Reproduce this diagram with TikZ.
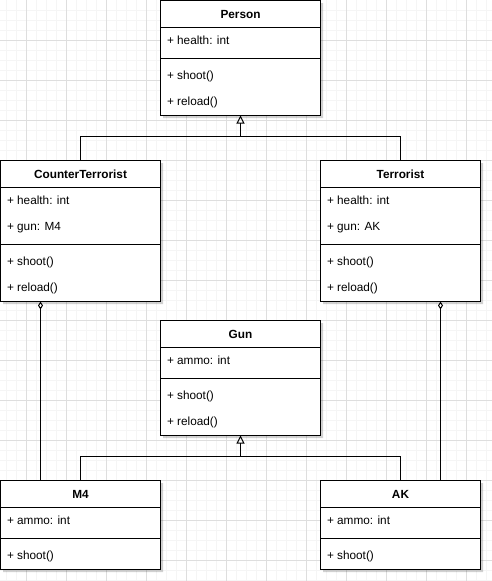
\documentclass[tikz,border=0pt]{standalone}
\usepackage{fontspec}
\setmainfont{Liberation Sans}
\usetikzlibrary{calc,shapes.multipart,arrows.meta,shadows}
% one 26pt row of a class box
\newcommand\umltitle[1]{\hbox{\rule[-8.5pt]{0pt}{26pt}\textbf{#1}}}
\newcommand\umlrow[1]{\hbox{\rule[-9.5pt]{0pt}{26pt}#1}}
\newcommand\umlattrs[1]{\vbox{\offinterlineskip#1\kern4pt}}
\newcommand\umlops[1]{\vbox{\offinterlineskip\kern4pt#1}}
\tikzset{
  umlclass/.style={ % image of a class: name, attributes, operations
    draw, fill=white, line width=1pt, rectangle split,
    rectangle split parts=3, rectangle split part align={center,left,left},
    minimum width=160pt, inner xsep=6.5pt, inner ysep=0pt, outer sep=0pt,
    anchor=north west, text=black, font=\fontsize{11.8}{14}\selectfont,
    drop shadow={shadow xshift=2.5pt, shadow yshift=-2.5pt, opacity=0.18, fill=black}
  },
  generalize/.style={line width=1pt, -{Triangle[open, length=8pt, width=8pt]}},
  plainline/.style={line width=1pt},
  aggregate/.style={line width=1pt, {Diamond[open, length=8pt, width=5pt]}-},
  gridminor/.style={line width=1pt, black!4},
  gridmajor/.style={line width=1pt, black!13}
}
\begin{document}
\begin{tikzpicture}[x=1pt, y=-1pt]
  \fill[white] (0,0) rectangle (492,581);
  \useasboundingbox (0,0) rectangle (492,581);

  % background grid
  \foreach \x in {6,16,...,486} \draw[gridminor] (\x,0) -- (\x,581);
  \foreach \y in {10,20,...,580} \draw[gridminor] (0,\y) -- (492,\y);
  \foreach \x in {26,66,...,466} \draw[gridmajor] (\x,0) -- (\x,581);
  \foreach \y in {40,80,...,560} \draw[gridmajor] (0,\y) -- (492,\y);

  \node[umlclass] (person) at (160.5,0.5) {\umltitle{Person}%
    \nodepart{two}\umlattrs{\umlrow{+ health: int}}%
    \nodepart{three}\umlops{\umlrow{+ shoot()}\umlrow{+ reload()}}};
  \node[umlclass] (counter) at (0.5,160.5) {\umltitle{CounterTerrorist}%
    \nodepart{two}\umlattrs{\umlrow{+ health: int}\umlrow{+ gun: M4}}%
    \nodepart{three}\umlops{\umlrow{+ shoot()}\umlrow{+ reload()}}};
  \node[umlclass] (terrorist) at (320.5,160.5) {\umltitle{Terrorist}%
    \nodepart{two}\umlattrs{\umlrow{+ health: int}\umlrow{+ gun: AK}}%
    \nodepart{three}\umlops{\umlrow{+ shoot()}\umlrow{+ reload()}}};
  \node[umlclass] (gun) at (160.5,320.5) {\umltitle{Gun}%
    \nodepart{two}\umlattrs{\umlrow{+ ammo: int}}%
    \nodepart{three}\umlops{\umlrow{+ shoot()}\umlrow{+ reload()}}};
  \node[umlclass] (m4) at (0.5,480.5) {\umltitle{M4}%
    \nodepart{two}\umlattrs{\umlrow{+ ammo: int}}%
    \nodepart{three}\umlops{\umlrow{+ shoot()}}};
  \node[umlclass] (ak) at (320.5,480.5) {\umltitle{AK}%
    \nodepart{two}\umlattrs{\umlrow{+ ammo: int}}%
    \nodepart{three}\umlops{\umlrow{+ shoot()}}};

  % inheritance
  \coordinate (ptee) at (240.5,136.5);
  \coordinate (gtee) at (240.5,456.5);
  \draw[generalize] (counter.north) |- (ptee) -- (person.south);
  \draw[plainline] (terrorist.north) |- (ptee);
  \draw[generalize] (m4.north) |- (gtee) -- (gun.south);
  \draw[plainline] (ak.north) |- (gtee);

  % aggregation
  \draw[aggregate] ($(counter.south west)!.25!(counter.south east)$) -- ($(m4.north west)!.25!(m4.north east)$);
  \draw[aggregate] ($(terrorist.south west)!.75!(terrorist.south east)$) -- ($(ak.north west)!.75!(ak.north east)$);
\end{tikzpicture}
\end{document}
